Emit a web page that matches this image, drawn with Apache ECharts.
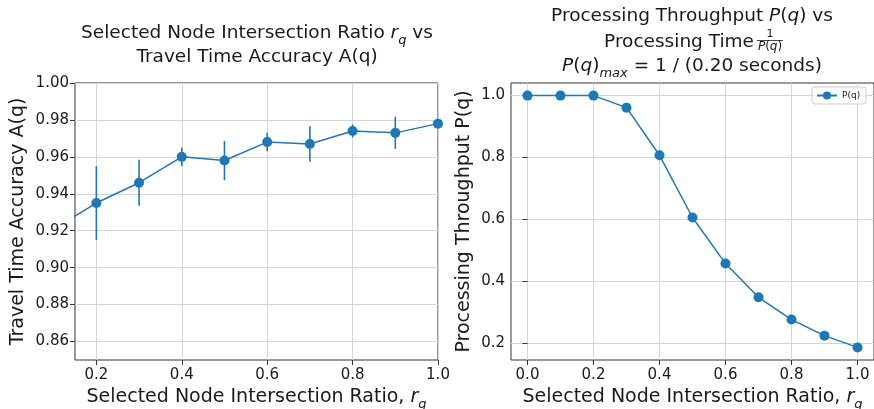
<!DOCTYPE html>
<html>
<head>
<meta charset="utf-8">
<script src="https://cdn.jsdelivr.net/npm/echarts@6/dist/echarts.min.js"></script>
<style>
  html, body { margin: 0; padding: 0; background: #fff; }
  #chart { width: 874px; height: 409px; }
</style>
</head>
<body>
<div id="chart"></div>
<script>
// Accuracy vs selected node intersection ratio (with spread)
const ratioLeft = [0.1, 0.2, 0.3, 0.4, 0.5, 0.6, 0.7, 0.8, 0.9, 1.0];
const accuracy = [0.921, 0.935, 0.946, 0.960, 0.958, 0.968, 0.967, 0.974, 0.973, 0.978];
const accuracyErr = [0.020, 0.020, 0.0125, 0.005, 0.0106, 0.005, 0.0096, 0.0035, 0.0087, 0.002];

// Processing throughput vs selected node intersection ratio
const ratioRight = [0.0, 0.1, 0.2, 0.3, 0.4, 0.5, 0.6, 0.7, 0.8, 0.9, 1.0];
const throughput = [1.0, 1.0, 1.0, 0.961, 0.807, 0.606, 0.457, 0.348, 0.276, 0.224, 0.186];

// Tick positions
const leftXTicks = [0.2, 0.4, 0.6, 0.8, 1.0];
const leftYTicks = [0.86, 0.88, 0.90, 0.92, 0.94, 0.96, 0.98, 1.00];
const rightXTicks = [0.0, 0.2, 0.4, 0.6, 0.8, 1.0];
const rightYTicks = [0.2, 0.4, 0.6, 0.8, 1.0];

const FONT = 'DejaVu Sans';
const BLUE = '#1f77b4';
const INK = '#1a1a1a';

function richFor(size) {
  return {
    i: { fontFamily: FONT, fontSize: size, fontStyle: 'italic', color: INK, verticalAlign: 'middle', lineHeight: 28 },
    sub: { fontFamily: FONT, fontSize: Math.round(size * 0.7), fontStyle: 'italic', color: INK, verticalAlign: 'bottom', lineHeight: 19 }
  };
}

function valueAxis(gridIndex, min, max, ticks, digits, extra) {
  return Object.assign({
    type: 'value',
    gridIndex: gridIndex,
    min: min,
    max: max,
    axisLine: { show: false },
    axisTick: { show: true, inside: false, length: 5, customValues: ticks, lineStyle: { color: '#333', width: 1 } },
    axisLabel: {
      customValues: ticks,
      formatter: v => v.toFixed(digits),
      fontFamily: FONT, fontSize: 15, color: INK, margin: 6
    },
    splitLine: { show: true, lineStyle: { color: '#d4d4d4', width: 1 } },
    nameLocation: 'middle',
    nameMoveOverlap: false,
    nameTextStyle: { fontFamily: FONT, fontSize: 19, color: INK, lineHeight: 28, rich: richFor(19) }
  }, extra);
}

function errorBars(xs, ys, es) {
  return {
    type: 'custom',
    name: 'A(q) spread',
    xAxisIndex: 0,
    yAxisIndex: 0,
    clip: true,
    z: 3,
    data: xs.map((x, i) => [x, ys[i] - es[i], ys[i] + es[i]]),
    encode: { x: 0, y: [1, 2] },
    renderItem: function (params, api) {
      const lo = api.coord([api.value(0), api.value(1)]);
      const hi = api.coord([api.value(0), api.value(2)]);
      return {
        type: 'line',
        shape: { x1: lo[0], y1: lo[1], x2: hi[0], y2: hi[1] },
        style: { stroke: BLUE, lineWidth: 1.6 }
      };
    }
  };
}

const gridStyle = {
  show: true, borderColor: '#333', borderWidth: 1, backgroundColor: '#fff',
  containLabel: false, outerBoundsMode: 'none'
};

const xLabelStyle = { fontFamily: FONT, fontSize: 15, color: INK, margin: 8 };

const titleLine = { fontFamily: FONT, fontSize: 18.5, fill: INK, align: 'center', verticalAlign: 'middle', lineHeight: 28, rich: richFor(18.5) };
const fracRich = { fi: { fontFamily: FONT, fontSize: 12, fontStyle: 'italic', color: INK } };

const xNameText = 'Selected Node Intersection Ratio, {i|r}{sub|q}';

const option = {
  backgroundColor: '#fff',
  animation: false,
  grid: [
    Object.assign({ left: 75, top: 83, width: 363, height: 277 }, gridStyle),
    Object.assign({ left: 511, top: 83, width: 363, height: 277 }, gridStyle)
  ],
  xAxis: [
    valueAxis(0, 0.15, 1.0, leftXTicks, 1, { name: xNameText, nameGap: 23 }),
    valueAxis(1, -0.05, 1.05, rightXTicks, 1, { name: xNameText, nameGap: 23 })
  ],
  yAxis: [
    valueAxis(0, 0.85, 1.0, leftYTicks, 2, { name: 'Travel Time Accuracy A(q)', nameGap: 43 }),
    valueAxis(1, 0.1453, 1.0407, rightYTicks, 1, { name: 'Processing Throughput P(q)', nameGap: 33 })
  ],
  legend: {
    data: ['P(q)'],
    left: 812,
    top: 87,
    padding: [4, 6, 4, 4],
    itemWidth: 20,
    itemHeight: 10,
    itemGap: 5,
    borderColor: '#cccccc',
    borderWidth: 1,
    borderRadius: 3,
    backgroundColor: 'rgba(255,255,255,0.8)',
    textStyle: { fontFamily: FONT, fontSize: 9, color: INK }
  },
  graphic: [
    { type: 'text', x: 257, y: 33, style: Object.assign({ text: 'Selected Node Intersection Ratio {i|r}{sub|q} vs' }, titleLine) },
    { type: 'text', x: 257, y: 57, style: Object.assign({ text: 'Travel Time Accuracy A(q)' }, titleLine) },
    { type: 'text', x: 692, y: 16, style: Object.assign({ text: 'Processing Throughput {i|P}({i|q}) vs' }, titleLine) },
    { type: 'text', x: 754, y: 42, style: Object.assign({}, titleLine, { text: 'Processing Time', align: 'right' }) },
    { type: 'text', x: 770, y: 34.5, style: { text: '1', fontFamily: FONT, fontSize: 11, fill: INK, align: 'center', verticalAlign: 'middle' } },
    { type: 'line', shape: { x1: 757, y1: 40.5, x2: 783, y2: 40.5 }, style: { stroke: INK, lineWidth: 0.8 } },
    { type: 'text', x: 770, y: 47, style: { text: '{fi|P}({fi|q})', fontFamily: FONT, fontSize: 12, fill: INK, align: 'center', verticalAlign: 'middle', rich: fracRich } },
    { type: 'text', x: 692, y: 66, style: Object.assign({ text: '{i|P}({i|q}){sub|max} = 1 / (0.20 seconds)' }, titleLine) }
  ],
  series: [
    {
      type: 'line',
      name: 'A(q)',
      xAxisIndex: 0,
      yAxisIndex: 0,
      data: ratioLeft.map((x, i) => [x, accuracy[i]]),
      symbol: 'circle',
      symbolSize: 10,
      showSymbol: true,
      clip: true,
      z: 4,
      itemStyle: { color: BLUE },
      lineStyle: { color: BLUE, width: 1.5 }
    },
    errorBars(ratioLeft, accuracy, accuracyErr),
    {
      type: 'line',
      name: 'P(q)',
      xAxisIndex: 1,
      yAxisIndex: 1,
      data: ratioRight.map((x, i) => [x, throughput[i]]),
      symbol: 'circle',
      symbolSize: 10,
      showSymbol: true,
      clip: false,
      z: 4,
      itemStyle: { color: BLUE },
      lineStyle: { color: BLUE, width: 1.5 }
    }
  ]
};

option.xAxis.forEach(ax => Object.assign(ax.axisLabel, xLabelStyle));

const chart = echarts.init(document.getElementById('chart'), null, { renderer: 'canvas' });
chart.setOption(option);
</script>
</body>
</html>
